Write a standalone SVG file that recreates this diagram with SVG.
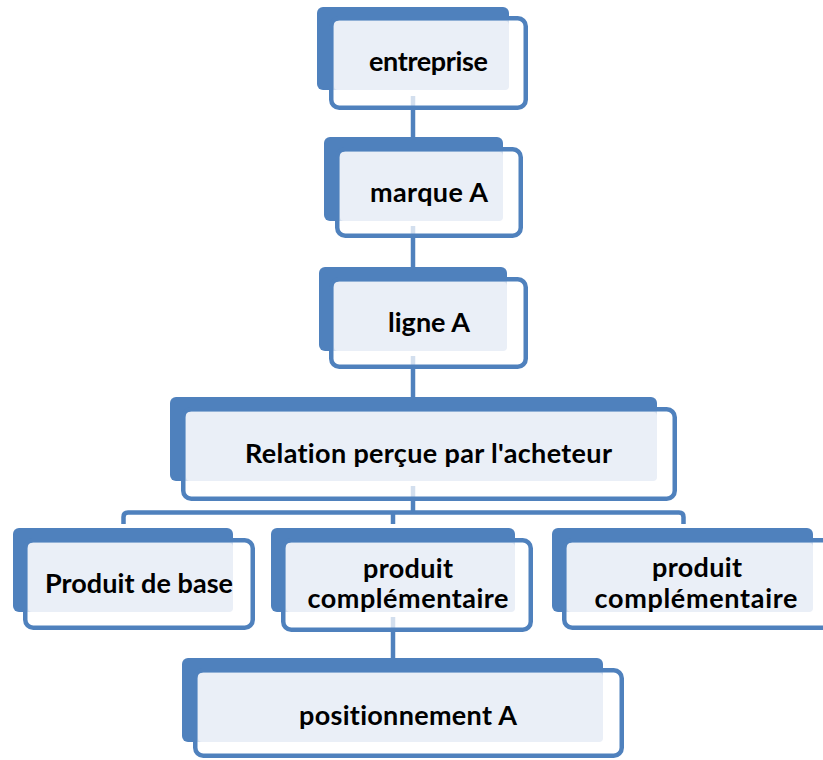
<svg xmlns="http://www.w3.org/2000/svg" width="823" height="760" viewBox="0 0 823 760">
<style>
.back{fill:#4F81BD;}
.front{fill:#FFFFFF;fill-opacity:0.75;stroke:#4F81BD;stroke-width:4.5;}
.light{fill:#EAEFF7;}
.lbl{font-family:Lato,"Liberation Sans",sans-serif;font-weight:bold;font-size:27px;fill:#000;text-anchor:middle;font-variant-ligatures:none;}
.conn{fill:none;stroke:#4F81BD;stroke-width:4.5;}
</style>
<rect width="823" height="760" fill="#FFFFFF"/>
<g id="connectors">
<line class="conn" x1="413" y1="96" x2="413" y2="140"/>
<line class="conn" x1="413" y1="226" x2="413" y2="270"/>
<line class="conn" x1="413" y1="356" x2="413" y2="400"/>
<line class="conn" x1="413" y1="486" x2="413" y2="512.5"/>
<path class="conn" d="M123.5,524 V517 Q123.5,512.5 128,512.5 H679 Q683.5,512.5 683.5,517 V524"/>
<line class="conn" x1="393" y1="512.5" x2="393" y2="524"/>
<line class="conn" x1="393" y1="617" x2="393" y2="660"/>
</g>
<g id="n1">
<rect class="back" x="317" y="7" width="192" height="83" rx="6"/>
<rect class="front" x="331.25" y="18.25" width="194.5" height="89.5" rx="8"/>
<rect class="light" x="334" y="21" width="175" height="69" rx="4"/>
<text class="lbl" x="428.5" y="71" textLength="119">entreprise</text>
</g>
<g id="n2">
<rect class="back" x="324" y="137" width="179" height="84" rx="6"/>
<rect class="front" x="337.25" y="149.25" width="183.5" height="86.5" rx="8"/>
<rect class="light" x="340" y="152" width="163" height="69" rx="4"/>
<text class="lbl" x="429" y="202" textLength="118">marque A</text>
</g>
<g id="n3">
<rect class="back" x="319" y="267" width="188" height="84" rx="6"/>
<rect class="front" x="331.25" y="279.25" width="194.5" height="87.5" rx="8"/>
<rect class="light" x="334" y="282" width="173" height="69" rx="4"/>
<text class="lbl" x="429" y="332" textLength="82">ligne A</text>
</g>
<g id="n4">
<rect class="back" x="170" y="397" width="487" height="84" rx="6"/>
<rect class="front" x="183.25" y="409.25" width="491.5" height="89.5" rx="8"/>
<rect class="light" x="186" y="412" width="471" height="69" rx="4"/>
<text class="lbl" x="428.5" y="463" textLength="367">Relation perçue par l'acheteur</text>
</g>
<g id="n5">
<rect class="back" x="13" y="528" width="220" height="84" rx="6"/>
<rect class="front" x="25.25" y="540.25" width="227.5" height="87.5" rx="8"/>
<rect class="light" x="28" y="543" width="205" height="69" rx="4"/>
<text class="lbl" x="139" y="593" textLength="188">Produit de base</text>
</g>
<g id="n6">
<rect class="back" x="271" y="528" width="244" height="84" rx="6"/>
<rect class="front" x="283.25" y="540.25" width="247.5" height="89.5" rx="8"/>
<rect class="light" x="286" y="543" width="229" height="69" rx="4"/>
<text class="lbl" x="408" y="578" textLength="90">produit</text>
<text class="lbl" x="408" y="608" textLength="201">complémentaire</text>
</g>
<g id="n7">
<rect class="back" x="552" y="528" width="261" height="84" rx="6"/>
<rect class="front" x="564.25" y="540.25" width="275" height="87.5" rx="8"/>
<rect class="light" x="567" y="543" width="246" height="69" rx="4"/>
<text class="lbl" x="697" y="577" textLength="90">produit</text>
<text class="lbl" x="696" y="608" textLength="203">complémentaire</text>
</g>
<g id="n8">
<rect class="back" x="182" y="658" width="421" height="84" rx="6"/>
<rect class="front" x="195.25" y="670.25" width="426.5" height="85.5" rx="8"/>
<rect class="light" x="198" y="673" width="405" height="69" rx="4"/>
<text class="lbl" x="408" y="725" textLength="218">positionnement A</text>
</g>
</svg>
